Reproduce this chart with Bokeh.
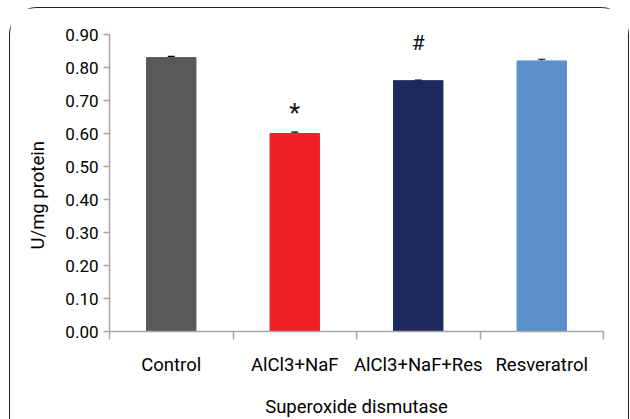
from bokeh.plotting import figure
from bokeh.models import ColumnDataSource, Range1d, FixedTicker, Whisker, Label, Title
from bokeh.embed import file_html
from bokeh.resources import INLINE

categories = ["Control", "AlCl3+NaF", "AlCl3+NaF+Res", "Resveratrol"]
values = [0.83, 0.60, 0.76, 0.82]
errors = [0.004, 0.004, 0.002, 0.005]
colors = ["#595959", "#ee2127", "#1f285c", "#5b8fca"]
marks = ["", "*", "#", ""]
mark_y = [0, 0.66, 0.875, 0]
y_ticks = [0.0, 0.1, 0.2, 0.3, 0.4, 0.5, 0.6, 0.7, 0.8, 0.9]
y_title = "U/mg protein"
x_title = "Superoxide dismutase"

FONT = "Roboto"

xs = [i + 0.5 for i in range(len(categories))]
src = ColumnDataSource(dict(
    x=xs, top=values, color=colors,
    upper=[v + e for v, e in zip(values, errors)],
    lower=[v - e for v, e in zip(values, errors)],
))

p = figure(width=620, height=412, output_backend="svg", toolbar_location=None,
           x_range=Range1d(0, len(categories)), y_range=Range1d(0, 0.9),
           min_border_left=97, min_border_right=27, min_border_top=26,
           min_border_bottom=85)
p.margin = (7, 0, 0, 9)
p.styles = {"border-top": "1.4px solid #222", "border-left": "1.4px solid #222",
            "border-right": "1.4px solid #222",
            "border-top-left-radius": "28px", "border-top-right-radius": "28px"}
p.outline_line_color = None
p.grid.visible = False

p.vbar(x="x", top="top", width=0.4, bottom=0, color="color", source=src)
w = Whisker(source=src, base="x", upper="upper", lower="lower",
            line_color="black", line_width=1.2)
w.upper_head.size = 7
w.lower_head.size = 7
w.upper_head.line_width = 1.2
w.lower_head.line_width = 1.2
p.add_layout(w)

for x, m, y in zip(xs, marks, mark_y):
    if m:
        p.add_layout(Label(x=x, y=y, text=m, text_align="center",
                           text_baseline="middle", text_font=FONT,
                           text_font_size="25px" if m == "*" else "21px",
                           text_color="#111"))

# y axis title as a left-side title, shifted along the axis
p.add_layout(Title(text=y_title, align="left", offset=82,
                   vertical_align="bottom", standoff=28,
                   text_font=FONT, text_font_size="18.5px",
                   text_font_style="normal", text_color="black"), "left")

# y axis
ya = p.yaxis[0]
ya.ticker = FixedTicker(ticks=y_ticks)
ya.major_label_overrides = {t: f"{t:.2f}" for t in y_ticks}
ya.major_label_text_font = FONT
ya.major_label_text_font_size = "17px"
ya.major_label_text_color = "black"
ya.axis_line_color = "#a6a6a6"
ya.axis_line_width = 1.5
ya.major_tick_line_color = "#a6a6a6"
ya.major_tick_line_width = 1.5
ya.major_tick_out = 6
ya.major_tick_in = 0
ya.minor_tick_line_color = None
ya.major_label_standoff = 5

# x axis
xa = p.xaxis[0]
xa.ticker = FixedTicker(ticks=xs, minor_ticks=list(range(len(categories) + 1)))
xa.major_label_overrides = {x: c for x, c in zip(xs, categories)}
xa.major_tick_line_color = None
xa.major_tick_out = 0
xa.minor_tick_line_color = "#a6a6a6"
xa.minor_tick_line_width = 1.5
xa.minor_tick_out = 8
xa.minor_tick_in = 0
xa.axis_line_color = "#a6a6a6"
xa.axis_line_width = 1.5
xa.major_label_text_font = FONT
xa.major_label_text_font_size = "18.5px"
xa.major_label_text_color = "black"
xa.major_label_standoff = 14
xa.axis_label = x_title
xa.axis_label_text_font = FONT
xa.axis_label_text_font_size = "18.5px"
xa.axis_label_text_font_style = "normal"
xa.axis_label_text_color = "black"
xa.axis_label_standoff = 17

open("out.html", "w").write(file_html(p, INLINE))
